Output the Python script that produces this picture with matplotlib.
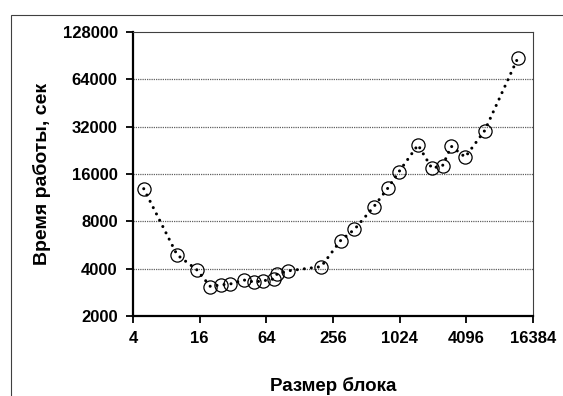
import matplotlib
matplotlib.use("Agg")
import matplotlib.pyplot as plt
import matplotlib.ticker as ticker
from matplotlib.patches import Rectangle

# ── Data ──────────────────────────────────────────────────────────────────────
block_size = [5, 10, 15, 20, 25, 30, 40, 50, 60, 75, 80, 100, 200,
              300, 400, 600, 800, 1000, 1500, 2000, 2500, 3000, 4000, 6000, 12000]
run_time = [12900, 4900, 3950, 3080, 3160, 3190, 3390, 3290, 3350, 3440, 3700,
            3870, 4120, 6040, 7110, 9940, 13000, 16400, 24500, 17400, 18100,
            24000, 20500, 30200, 88000]

x_ticks = [4, 16, 64, 256, 1024, 4096, 16384]
y_ticks = [2000, 4000, 8000, 16000, 32000, 64000, 128000]

plt.rcParams["font.family"] = ["Liberation Sans", "DejaVu Sans"]

fig = plt.figure(figsize=(5.63, 3.96), dpi=100)
ax = fig.add_axes([133 / 563, 1 - 316 / 396, 400 / 563, 284 / 396])

# outer chart-area frame (cropped at right and bottom)
fig.patches.append(Rectangle((11 / 563, -0.1), 1.1, 1 - 15 / 396 + 0.1,
                             transform=fig.transFigure, fill=False,
                             edgecolor="#404040", linewidth=0.8))

ax.plot(block_size, run_time, color="black", linewidth=2.2,
        linestyle=(0, (0.01, 2.3)), dash_capstyle="round", zorder=3)
ax.plot(block_size, run_time, linestyle="none", marker="o", markersize=9.5,
        markerfacecolor="none", markeredgecolor="black", markeredgewidth=0.9,
        zorder=4)

ax.set_xscale("log", base=2)
ax.set_yscale("log", base=2)
ax.set_xlim(4, 16384)
ax.set_ylim(2000, 128000)
ax.xaxis.set_major_locator(ticker.FixedLocator(x_ticks))
ax.yaxis.set_major_locator(ticker.FixedLocator(y_ticks))
ax.xaxis.set_minor_locator(ticker.NullLocator())
ax.yaxis.set_minor_locator(ticker.NullLocator())
ax.set_xticklabels([str(v) for v in x_ticks])
ax.set_yticklabels([str(v) for v in y_ticks])

for gy in y_ticks[1:-1]:
    ax.axhline(gy, color="#606060", linewidth=0.9, linestyle=(0, (1, 0.8)), zorder=1)

for side in ("left", "bottom"):
    ax.spines[side].set_linewidth(1.6)
for side in ("top", "right"):
    ax.spines[side].set_linewidth(0.8)
    ax.spines[side].set_color("#404040")

ax.tick_params(axis="both", direction="out", length=5, width=1.3,
               labelsize=12, pad=6)
for lbl in ax.get_xticklabels() + ax.get_yticklabels():
    lbl.set_fontweight("bold")

ax.set_xlabel("Размер блока", fontsize=13.5, fontweight="bold", labelpad=22)
ax.set_ylabel("Время работы, сек", fontsize=14, fontweight="bold", labelpad=8)

fig.savefig("out.png", dpi=100)
